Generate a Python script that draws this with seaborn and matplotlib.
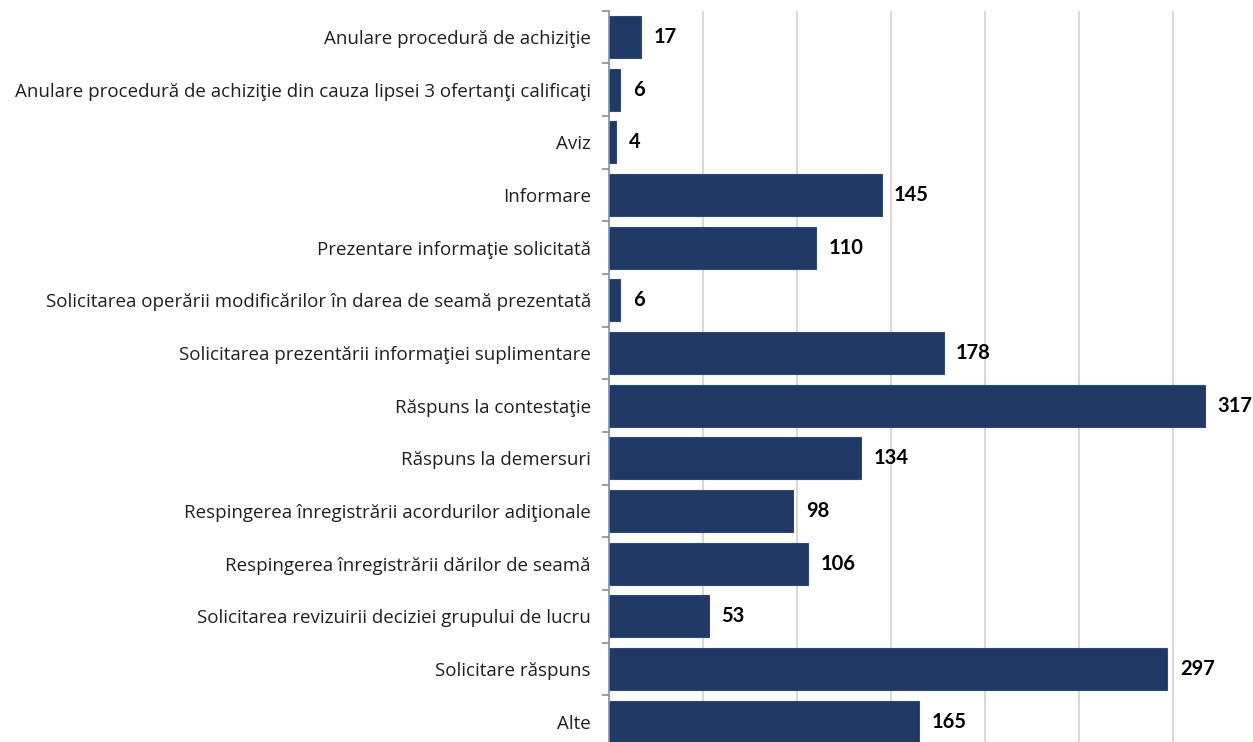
import matplotlib
matplotlib.use("Agg")
import matplotlib.pyplot as plt
import seaborn as sns
import pandas as pd
import numpy as np

# Chart data
categories = [
    "Anulare procedură de achiziţie",
    "Anulare procedură de achiziţie din cauza lipsei 3 ofertanţi calificaţi",
    "Aviz",
    "Informare",
    "Prezentare informaţie solicitată",
    "Solicitarea operării modificărilor în darea de seamă prezentată",
    "Solicitarea prezentării informaţiei suplimentare",
    "Răspuns la contestaţie",
    "Răspuns la demersuri",
    "Respingerea înregistrării acordurilor adiţionale",
    "Respingerea înregistrării dărilor de seamă",
    "Solicitarea revizuirii deciziei grupului de lucru",
    "Solicitare răspuns",
    "Alte",
]
values = [17, 6, 4, 145, 110, 6, 178, 317, 134, 98, 106, 53, 297, 165]

df = pd.DataFrame({"tip": categories, "numar": values})

sns.set_style("white")
plt.rcParams["font.family"] = ["Open Sans", "DejaVu Sans"]

fig = plt.figure(figsize=(12.53, 7.42), dpi=100)
ax = fig.add_axes([0.486, -0.0081, 0.514, 0.9938])

sns.barplot(data=df, x="numar", y="tip", orient="h", color="#203864",
            saturation=1, width=0.8, edgecolor="#2F4B7E", linewidth=0.8, ax=ax)

ax.set_xlim(0, 342.5)
ax.set_xticks(np.arange(50, 301, 50))
ax.xaxis.grid(True, color="#D9D9D9", linewidth=1.5)
ax.set_axisbelow(True)
ax.tick_params(axis="x", bottom=False, labelbottom=False)

# category separators like Excel ticks
ax.set_yticks(np.arange(-0.5, len(categories), 1), minor=True)
ax.tick_params(axis="y", which="major", length=0, pad=13, labelsize=13.5,
               labelcolor="#202020")
ax.tick_params(axis="y", which="minor", length=5, width=1.2, color="#7F8FA9",
               left=True)
ax.set_xlabel("")
ax.set_ylabel("")

for side in ["top", "right", "bottom"]:
    ax.spines[side].set_visible(False)
ax.spines["left"].set_color("#7F8FA9")
ax.spines["left"].set_linewidth(1.2)

labels = ax.bar_label(ax.containers[0], padding=9, fontsize=14.5,
                      fontweight="bold", color="black", family=["Lato", "DejaVu Sans"])
for t in labels:
    t.set_clip_on(False)

fig.savefig("out.png", dpi=100)
